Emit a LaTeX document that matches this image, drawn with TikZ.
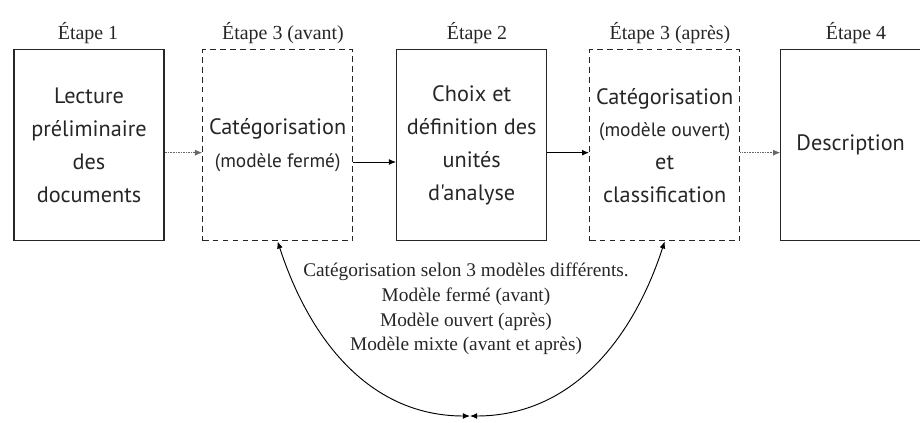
\documentclass[tikz,border=0pt]{standalone}
\usepackage{fontspec}
\setmainfont{Liberation Serif}
\newfontfamily\etapefont{PT Sans}
\usepackage{tikz}
\usetikzlibrary{arrows}
\usetikzlibrary{arrows.meta}
\tikzset{>={Latex[length=6pt, width=5pt]}}
\tikzstyle{etape} = [rectangle, draw = black!85, line width = 1.1pt, minimum width = 4.5cm, minimum height = 5.73cm, inner sep = 0pt, align = center, text = black!85, font = \etapefont\fontsize{19}{28}\selectfont]
\tikzstyle{etapetirets} = [etape, dash pattern = on 5pt off 3.5pt]
\tikzstyle{titre} = [text = black!85, font = \fontsize{17}{20}\selectfont]
\newcommand{\petit}[1]{{\fontsize{16.5}{24}\selectfont #1}}

\begin{document}
\begin{tikzpicture}
\useasboundingbox (0, 0) rectangle (27.6, 12.66);
\node [etape] (b1) at (2.67, 8.3) {Lecture\\préliminaire\\des\\documents};
\node [etapetirets] (b2) at (8.33, 8.3) {Catégorisation\\\petit{(modèle fermé)}};
\node [etape] (b3) at (14.15, 8.3) {Choix et\\définition des\\unités\\d'analyse};
\node [etapetirets] (b4) at (19.94, 8.3) {Catégorisation\\\petit{(modèle ouvert)}\\et\\classification};
\node [etape] (b5) at (25.67, 8.3) {\hspace*{-.3cm}Description};
\node [titre] (t1) at (2.64, 11.67) {Étape 1};
\node [titre] (t2) at (8.49, 11.67) {Étape 3 (avant)};
\node [titre] (t3) at (14.31, 11.67) {Étape 2};
\node [titre] (t4) at (20.1, 11.67) {Étape 3 (après)};
\node [titre] (t5) at (25.68, 11.67) {Étape 4};
\node [align = center, text = black!85, font = \fontsize{16.5}{21}\selectfont] (modeles) at (13.98, 3.39) {Catégorisation selon 3 modèles différents.\\Modèle fermé (avant)\\Modèle ouvert (après)\\Modèle mixte (avant et après)};
\coordinate (m) at (14.1, .18);
\draw [->, densely dotted, draw = black!60] ([yshift = -.22cm]b1.east) -- ([yshift = -.22cm]b2.west);
\draw [->, line width = .8pt, draw = black] ([yshift = -.5cm]b2.east) -- ([yshift = -.5cm]b3.west);
\draw [->, line width = .8pt, draw = black] ([yshift = -.22cm]b3.east) -- ([yshift = -.22cm]b4.west);
\draw [->, densely dotted, draw = black!60] ([yshift = -.22cm]b4.east) -- ([yshift = -.22cm]b5.west);
\draw [<->, draw = black, line width = .8pt] (b2.south) to [out = -72, in = 180] (m);
\draw [<->, draw = black, line width = .8pt] (b4.south) to [out = -108, in = 0] (m);
\end{tikzpicture}
\end{document}
